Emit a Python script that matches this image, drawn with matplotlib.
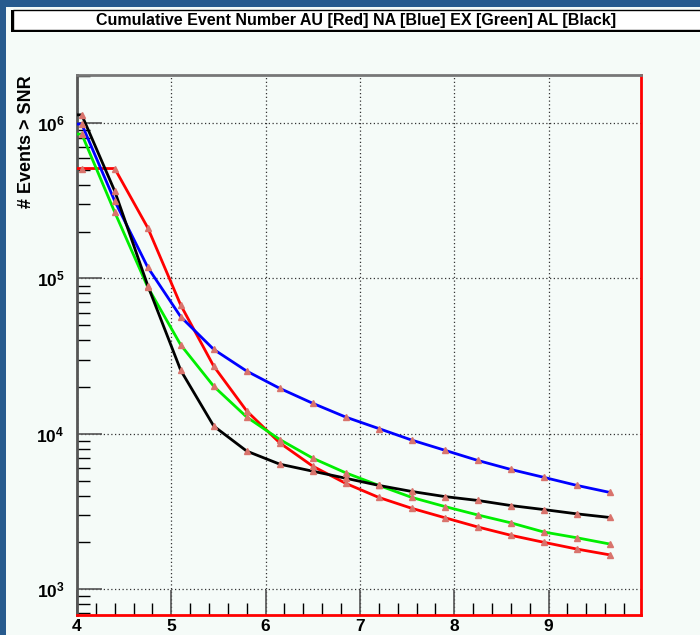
import numpy as np
import matplotlib
matplotlib.use('Agg')
import matplotlib.pyplot as plt
from matplotlib.ticker import FixedLocator, LogLocator, FuncFormatter, NullFormatter
from matplotlib.patches import Rectangle

plt.rcParams['font.family'] = ['Liberation Sans', 'DejaVu Sans']
plt.rcParams['mathtext.fontset'] = 'custom'
plt.rcParams['mathtext.rm'] = 'Liberation Sans'
plt.rcParams['mathtext.bf'] = 'Liberation Sans:bold'

# SNR bins
snr = np.array([4.05, 4.40, 4.75, 5.10, 5.45, 5.80, 6.15, 6.50, 6.85,
                7.20, 7.55, 7.90, 8.25, 8.60, 8.95, 9.30, 9.65])
au = np.array([5.1e5, 5.1e5, 2.12e5, 6.73e4, 2.72e4, 1.40e4, 8.73e3, 6.18e3, 4.79e3,
               3.89e3, 3.31e3, 2.88e3, 2.51e3, 2.22e3, 2.0e3, 1.81e3, 1.66e3])
na = np.array([9.86e5, 3.15e5, 1.18e5, 5.66e4, 3.49e4, 2.53e4, 1.96e4, 1.57e4, 1.28e4,
               1.08e4, 9.1e3, 7.83e3, 6.73e3, 5.89e3, 5.24e3, 4.65e3, 4.19e3])
ex = np.array([8.5e5, 2.67e5, 8.8e4, 3.73e4, 2.02e4, 1.28e4, 9.18e3, 6.96e3, 5.6e3,
               4.65e3, 3.89e3, 3.4e3, 3.0e3, 2.67e3, 2.33e3, 2.14e3, 1.95e3])
al = np.array([1.13e6, 3.65e5, 9.0e4, 2.56e4, 1.12e4, 7.73e3, 6.37e3, 5.74e3, 5.17e3,
               4.65e3, 4.25e3, 3.94e3, 3.72e3, 3.45e3, 3.25e3, 3.05e3, 2.89e3])

xmin, xmax = 4.0, 9.98
ymin, ymax = 681, 2.04e6

bg = '#f5fbf8'
fig = plt.figure(figsize=(7, 6.35), dpi=100)
fig.patch.set_facecolor('#275b8e')
# pale inner canvas
fig.patches.append(Rectangle((6 / 700, 0), 1, 1 - 7 / 635, transform=fig.transFigure,
                             facecolor=bg, edgecolor='none', zorder=-2))
# title box with shadow
fig.patches.append(Rectangle((11 / 700, 1 - 32 / 635), 0.99, 22 / 635, transform=fig.transFigure,
                             facecolor='black', edgecolor='none', zorder=1))
fig.patches.append(Rectangle((13 / 700, 1 - 30 / 635), 0.99, 20 / 635, transform=fig.transFigure,
                             facecolor='white', edgecolor='black', lw=1, zorder=2))
fig.text(356 / 700, 1 - 21 / 635, 'Cumulative Event Number AU [Red] NA [Blue] EX [Green] AL [Black]',
         ha='center', va='center', fontsize=11.5, fontweight='bold', zorder=3)

ax = fig.add_axes([77 / 700, 1 - 615 / 635, (641 - 77) / 700, (615 - 75) / 635])
ax.set_zorder(5)
ax.set_facecolor(bg)

for y, c in [(au, 'red'), (na, 'blue'), (ex, '#00ee00'), (al, 'black')]:
    ax.plot(np.r_[xmin, snr], np.r_[y[0], y], color=c, lw=2, zorder=3)
for y in [au, na, ex, al]:
    ax.plot(snr, y, ls='', marker='^', ms=4, color='#d9736c', zorder=4)

ax.set_yscale('log')
ax.set_xlim(xmin, xmax)
ax.set_ylim(ymin, ymax)

ax.xaxis.set_major_locator(FixedLocator([4, 5, 6, 7, 8, 9]))
ax.xaxis.set_minor_locator(FixedLocator(np.arange(4.2, 9.9, 0.2)))
ax.xaxis.set_major_formatter(FuncFormatter(lambda v, p: '%d' % round(v)))
ax.yaxis.set_major_locator(LogLocator(base=10, numticks=10))
ax.yaxis.set_minor_locator(LogLocator(base=10, subs=np.arange(2, 10), numticks=20))
ax.yaxis.set_major_formatter(FuncFormatter(lambda v, p: r'$\mathbf{10^{%d}}$' % round(np.log10(v))))
ax.yaxis.set_minor_formatter(NullFormatter())

ax.tick_params(axis='both', which='both', direction='in', top=False, right=False)
ax.tick_params(axis='both', which='major', length=18, width=1.2, color='#555555', labelsize=12.5)
ax.tick_params(axis='both', which='minor', length=9, width=1, color='black')
ax.tick_params(axis='x', which='major', pad=3)
ax.tick_params(axis='y', which='major', pad=9)
for lab in ax.get_xticklabels() + ax.get_yticklabels():
    lab.set_fontweight('bold')

ax.grid(True, which='major', ls=(0, (1, 2)), color='#333333', lw=0.9)

ax.spines['top'].set_color('#777777')
ax.spines['left'].set_color('#555555')
ax.spines['bottom'].set_color('red')
ax.spines['right'].set_color('red')
for s in ['top', 'left', 'bottom', 'right']:
    ax.spines[s].set_linewidth(2)

ax.set_ylabel('# Events > SNR', fontsize=13, fontweight='bold')
ax.yaxis.set_label_coords(-50 / 564, 1.0)
ax.yaxis.label.set_rotation_mode('anchor')
ax.yaxis.label.set_ha('right')
ax.yaxis.label.set_va('center')

fig.savefig('out.png', dpi=100, facecolor=fig.get_facecolor())
